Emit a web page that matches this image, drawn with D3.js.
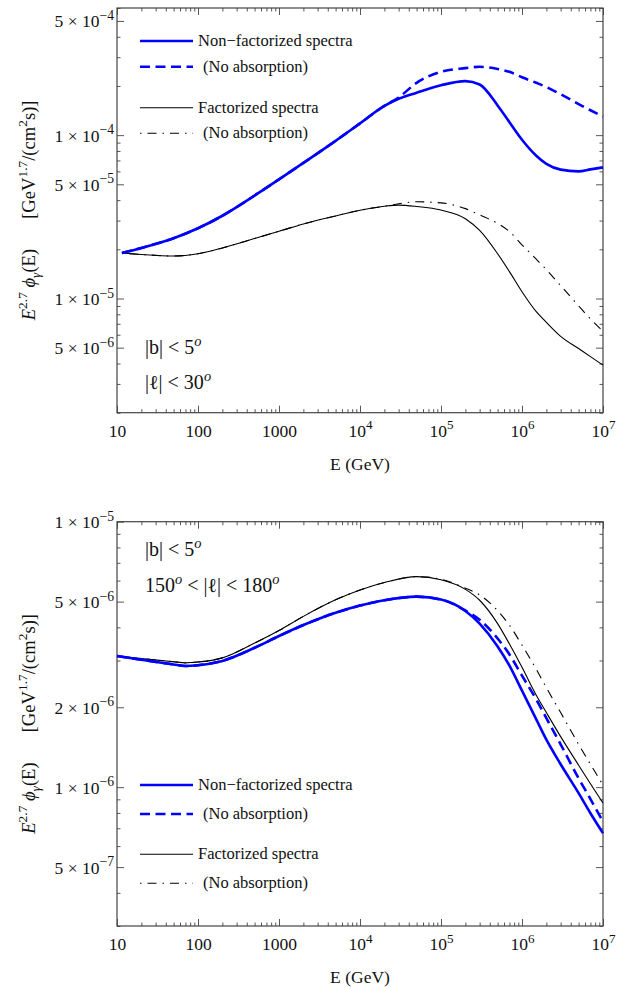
<!DOCTYPE html>
<html><head><meta charset="utf-8">
<script src="https://cdn.jsdelivr.net/npm/d3@7"></script>
<style>
body{margin:0;background:#fff}
svg{display:block}
text{font-family:"Liberation Serif","Times New Roman",serif;fill:#111}
</style>
</head><body>
<svg id="c" width="625" height="988"></svg>
<script>
// ---------------- DATA ----------------
// Energies (GeV)
const energiesTop = [11.5, 20, 50, 100, 200, 500, 1e3, 2e3, 5e3, 1e4, 2e4, 3e4, 5e4, 1e5, 2e5, 3e5, 5e5, 7e5, 1e6, 1.5e6, 2e6, 3e6, 5e6, 7e6, 1e7];
const energiesBottom = [10, 20, 50, 70, 100, 200, 500, 1e3, 2e3, 5e3, 1e4, 2e4, 5e4, 1e5, 2e5, 3e5, 5e5, 7e5, 1e6, 1.5e6, 2e6, 3e6, 5e6, 7e6, 1e7];

// Top panel: |b|<5, |l|<30   (E^2.7 phi, GeV^1.7/(cm^2 s))
const topNonFact      = [1.90e-5, 2.04e-5, 2.34e-5, 2.69e-5, 3.21e-5, 4.27e-5, 5.36e-5, 6.76e-5, 9.23e-5, 1.18e-4, 1.51e-4, 1.67e-4, 1.82e-4, 2.02e-4, 2.14e-4, 2.04e-4, 1.52e-4, 1.20e-4, 9.37e-5, 7.48e-5, 6.67e-5, 6.15e-5, 6.00e-5, 6.17e-5, 6.35e-5];
const topNonFactNoAbs = [1.90e-5, 2.04e-5, 2.34e-5, 2.69e-5, 3.21e-5, 4.27e-5, 5.36e-5, 6.76e-5, 9.23e-5, 1.18e-4, 1.51e-4, 1.70e-4, 2.09e-4, 2.44e-4, 2.57e-4, 2.62e-4, 2.54e-4, 2.44e-4, 2.26e-4, 2.09e-4, 1.97e-4, 1.78e-4, 1.55e-4, 1.42e-4, 1.30e-4];
const topFact         = [1.90e-5, 1.86e-5, 1.82e-5, 1.88e-5, 2.04e-5, 2.33e-5, 2.58e-5, 2.86e-5, 3.20e-5, 3.47e-5, 3.67e-5, 3.73e-5, 3.66e-5, 3.48e-5, 3.08e-5, 2.61e-5, 1.88e-5, 1.46e-5, 1.10e-5, 8.30e-6, 7.15e-6, 5.87e-6, 4.94e-6, 4.41e-6, 3.91e-6];
const topFactNoAbs    = [1.90e-5, 1.86e-5, 1.82e-5, 1.88e-5, 2.04e-5, 2.33e-5, 2.58e-5, 2.86e-5, 3.20e-5, 3.47e-5, 3.67e-5, 3.80e-5, 3.91e-5, 3.85e-5, 3.55e-5, 3.25e-5, 2.88e-5, 2.57e-5, 2.13e-5, 1.74e-5, 1.50e-5, 1.20e-5, 9.02e-6, 7.50e-6, 6.31e-6];

// Bottom panel: |b|<5, 150<|l|<180
const botNonFact      = [3.12e-6, 3.02e-6, 2.90e-6, 2.86e-6, 2.88e-6, 2.99e-6, 3.35e-6, 3.71e-6, 4.08e-6, 4.54e-6, 4.83e-6, 5.06e-6, 5.22e-6, 5.09e-6, 4.61e-6, 4.13e-6, 3.39e-6, 2.87e-6, 2.31e-6, 1.80e-6, 1.51e-6, 1.22e-6, 9.50e-7, 7.98e-7, 6.71e-7];
const botNonFactNoAbs = [3.12e-6, 3.02e-6, 2.90e-6, 2.86e-6, 2.88e-6, 2.99e-6, 3.35e-6, 3.71e-6, 4.08e-6, 4.54e-6, 4.83e-6, 5.06e-6, 5.22e-6, 5.09e-6, 4.63e-6, 4.27e-6, 3.63e-6, 3.16e-6, 2.63e-6, 2.14e-6, 1.82e-6, 1.45e-6, 1.08e-6, 9.02e-7, 7.41e-7];
const botFact         = [3.12e-6, 3.05e-6, 2.97e-6, 2.94e-6, 2.96e-6, 3.07e-6, 3.49e-6, 3.89e-6, 4.40e-6, 5.08e-6, 5.53e-6, 5.90e-6, 6.21e-6, 6.04e-6, 5.56e-6, 5.06e-6, 4.13e-6, 3.46e-6, 2.83e-6, 2.22e-6, 1.91e-6, 1.55e-6, 1.21e-6, 1.03e-6, 8.71e-7];
const botFactNoAbs    = [3.12e-6, 3.05e-6, 2.97e-6, 2.94e-6, 2.96e-6, 3.07e-6, 3.49e-6, 3.89e-6, 4.40e-6, 5.08e-6, 5.53e-6, 5.90e-6, 6.21e-6, 6.07e-6, 5.62e-6, 5.30e-6, 4.62e-6, 4.07e-6, 3.43e-6, 2.78e-6, 2.37e-6, 1.91e-6, 1.45e-6, 1.22e-6, 1.02e-6];

// Ticks
const xTicks = [10, 100, 1000, 1e4, 1e5, 1e6, 1e7];
const yTicksTop = [5e-6, 1e-5, 5e-5, 1e-4, 5e-4];
const yTicksBottom = [5e-7, 1e-6, 2e-6, 5e-6, 1e-5];
const yDomainTop = [2e-6, 6e-4];
const yDomainBottom = [3e-7, 1e-5];
const xDomain = [10, 1e7];

const legendLabels = ["Non\u2212factorized spectra", "(No absorption)", "Factorized spectra", "(No absorption)"];
const seriesKeys = ["nf", "nfna", "f", "fna"];

// ---------------- DRAWING ----------------
const svg = d3.select("#c");
const L = 117, R = 603;
const FRAME = "#444";
const FONT = '"Liberation Serif","Times New Roman",serif';
const styles = {
  nf:   {color: "#0000ff", width: 2.6, dash: null},
  nfna: {color: "#0000ff", width: 2.6, dash: "10,5.5"},
  f:    {color: "#000",    width: 1.1, dash: null},
  fna:  {color: "#000",    width: 1.1, dash: "1.5,6,9,6"}
};

function rich(textSel, parts, fs, supScale) {
  const sc = supScale || 0.72;
  let cur = 0;
  parts.forEach(p => {
    const target = p.sup ? -0.42 * fs : p.sub ? 0.28 * fs : 0;
    const ts = textSel.append("tspan").text(p.t);
    if (target - cur !== 0) ts.attr("dy", target - cur);
    cur = target;
    if (p.sup || p.sub) ts.attr("font-size", sc * fs);
    if (p.it) ts.attr("font-style", "italic");
    if (p.dx) ts.attr("dx", p.dx);
  });
}

function yLabelParts(v) {
  const e = Math.floor(Math.log10(v) + 1e-9);
  const m = Math.round(v / Math.pow(10, e));
  return [{t: m + " \u00d7 10"}, {t: "\u2212" + Math.abs(e), sup: true}];
}
function xLabelParts(v) {
  if (v <= 1000) return [{t: String(v)}];
  return [{t: "10"}, {t: String(Math.round(Math.log10(v))), sup: true}];
}

function minorTicks(domain, majors) {
  const out = [];
  const e0 = Math.floor(Math.log10(domain[0])), e1 = Math.ceil(Math.log10(domain[1]));
  for (let e = e0; e <= e1; e++) for (let m = 1; m <= 9; m++) {
    const v = m * Math.pow(10, e);
    if (v >= domain[0] * 0.999 && v <= domain[1] * 1.001 && !majors.some(t => Math.abs(t - v) / v < 1e-6)) out.push(v);
  }
  return out;
}

function panel(cfg) {
  const T = cfg.top, B = cfg.bottom;
  const x = d3.scaleLog().domain(xDomain).range([L, R]);
  const y = d3.scaleLog().domain(cfg.yDomain).range([B, T]);
  const g = svg.append("g");
  const xMinor = minorTicks(xDomain, xTicks);
  const yMinor = minorTicks(cfg.yDomain, cfg.yTicks);

  const styleAxis = sel => {
    sel.select(".domain").remove();
    sel.attr("font-family", FONT);
    sel.selectAll("line").attr("stroke", FRAME).attr("stroke-width", 0.9);
  };
  const addAxis = (gen, tr, vals, size, labels) => {
    const a = g.append("g").attr("transform", tr)
      .call(gen.tickValues(vals).tickSizeInner(-size).tickSizeOuter(0).tickPadding(3).tickFormat(labels ? (d => d) : ""));
    styleAxis(a);
    return a;
  };
  const xb = addAxis(d3.axisBottom(x), `translate(0,${B})`, xTicks, 7, true);
  addAxis(d3.axisBottom(x), `translate(0,${B})`, xMinor, 3.5, false);
  addAxis(d3.axisTop(x), `translate(0,${T})`, xTicks, 7, false);
  addAxis(d3.axisTop(x), `translate(0,${T})`, xMinor, 3.5, false);
  const yl = addAxis(d3.axisLeft(y), `translate(${L},0)`, cfg.yTicks, 7, true);
  addAxis(d3.axisLeft(y), `translate(${L},0)`, yMinor, 3.5, false);
  addAxis(d3.axisRight(y), `translate(${R},0)`, cfg.yTicks, 7, false);
  addAxis(d3.axisRight(y), `translate(${R},0)`, yMinor, 3.5, false);

  const tfs = 17.5;
  xb.selectAll(".tick text").each(function(d) {
    const t = d3.select(this);
    t.text(null).attr("dy", null).attr("y", 24).attr("font-size", tfs).attr("fill", "#111");
    rich(t, xLabelParts(d), tfs, 0.75);
  });
  yl.selectAll(".tick text").each(function(d) {
    const t = d3.select(this);
    t.text(null).attr("dy", null).attr("x", -3).attr("y", 6).attr("font-size", tfs).attr("fill", "#111");
    rich(t, yLabelParts(d), tfs, 0.78);
  });

  // frame
  g.append("rect").attr("x", L).attr("y", T).attr("width", R - L).attr("height", B - T)
    .attr("fill", "none").attr("stroke", FRAME).attr("stroke-width", 1.2);

  // curves
  const line = d3.line().x(d => x(d[0])).y(d => y(d[1])).curve(d3.curveMonotoneX);
  const order = ["f", "fna", "nfna", "nf"];
  order.forEach(k => {
    const st = styles[k];
    const pts = cfg.energies.map((e, i) => [e, cfg.series[k][i]]);
    g.append("path").attr("d", line(pts)).attr("fill", "none")
      .attr("stroke", st.color).attr("stroke-width", st.width)
      .attr("stroke-dasharray", st.dash).attr("stroke-linejoin", "round");
  });

  // legend
  seriesKeys.forEach((k, i) => {
    const st = styles[k];
    const ly = cfg.legendY[i];
    g.append("line").attr("x1", 140).attr("x2", 193).attr("y1", ly).attr("y2", ly)
      .attr("stroke", st.color).attr("stroke-width", st.width).attr("stroke-dasharray", st.dash);
    g.append("text").attr("x", i % 2 ? 203 : 198).attr("y", ly + 5).attr("font-size", 16.5)
      .text(legendLabels[i]);
  });

  // annotations
  cfg.notes.forEach(n => {
    const t = g.append("text").attr("x", 145).attr("y", n.y).attr("font-size", 20);
    rich(t, n.parts, 20);
  });

  // y title
  const cy = (T + B) / 2;
  const yt = g.append("text").attr("transform", `translate(34.5,${cy}) rotate(-90)`)
    .attr("text-anchor", "middle").attr("font-size", 18.6);
  rich(yt, [
    {t: "E", it: true}, {t: "2.7", sup: true}, {t: " \u03d5", it: true}, {t: "\u03b3", sub: true, it: true}, {t: "(E)"},
    {t: "[GeV", dx: 30}, {t: "1.7", sup: true}, {t: "/(cm"}, {t: "2", sup: true}, {t: "s)]"}
  ], 18.6);

  // x title
  g.append("text").attr("x", (L + R) / 2).attr("y", B + 57).attr("text-anchor", "middle")
    .attr("font-size", 17.5).text("E (GeV)");
}

panel({
  top: 8, bottom: 412.7, yDomain: yDomainTop, yTicks: yTicksTop, energies: energiesTop,
  series: {nf: topNonFact, nfna: topNonFactNoAbs, f: topFact, fna: topFactNoAbs},
  legendY: [41, 66.7, 107.7, 133.3],
  notes: [
    {y: 354, parts: [{t: "|b| < 5"}, {t: "o", sup: true, it: true}]},
    {y: 389, parts: [{t: "|\u2113| < 30"}, {t: "o", sup: true, it: true}]}
  ]
});
panel({
  top: 521.7, bottom: 926, yDomain: yDomainBottom, yTicks: yTicksBottom, energies: energiesBottom,
  series: {nf: botNonFact, nfna: botNonFactNoAbs, f: botFact, fna: botFactNoAbs},
  legendY: [785, 814, 854.3, 883.3],
  notes: [
    {y: 556, parts: [{t: "|b| < 5"}, {t: "o", sup: true, it: true}]},
    {y: 592, parts: [{t: "150"}, {t: "o", sup: true, it: true}, {t: " < |\u2113| < 180"}, {t: "o", sup: true, it: true}]}
  ]
});
</script>
</body></html>
